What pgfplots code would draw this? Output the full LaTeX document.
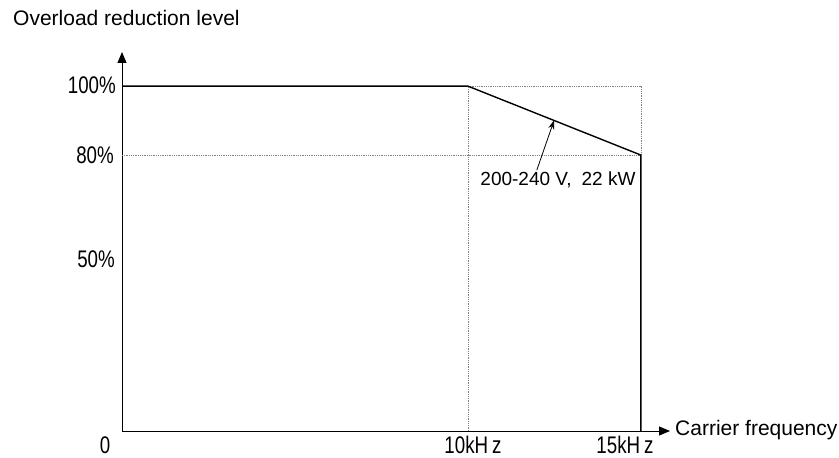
\documentclass[border=0pt]{standalone}
\usepackage{pgfplots}
\pgfplotsset{compat=1.18}
\usetikzlibrary{arrows.meta}
\usepackage{fontspec}
\setmainfont{Liberation Sans}
\newfontfamily\tickfont[FakeStretch=0.78]{Liberation Sans}
\begin{document}
\begin{tikzpicture}
\useasboundingbox (-122bp,-27bp) rectangle (717bp,431bp);
\begin{axis}[
  at={(0bp,0bp)}, anchor=south west,
  scale only axis, width=548bp, height=379bp,
  xmin=0, xmax=15.84, ymin=0, ymax=109.9,
  axis lines=left,
  axis line style={line width=0.9bp, -{Triangle[length=11bp,width=9bp]}},
  xtick=\empty, ytick=\empty,
  clip=false,
]
\addplot[densely dotted, gray, line width=0.8bp] coordinates {(10,0) (10,100) (15,100) (15,80)};
\addplot[densely dotted, gray, line width=0.8bp] coordinates {(0,80) (15,80)};
\addplot[black, line width=1.4bp] coordinates {(0,100) (10,100) (15,80) (15,0)};
\draw[-{Stealth[length=9bp,width=6bp]}, line width=0.8bp] (axis cs:11.99,75.65) -- (axis cs:12.49,90.1);
\end{axis}
\begin{scope}[every node/.style={font=\tickfont\fontsize{24bp}{28bp}\selectfont, inner sep=0pt}]
\node[anchor=east] at (-6bp,346bp) {100\%};
\node[anchor=east] at (-8bp,276bp) {80\%};
\node[anchor=east] at (-7bp,172bp) {50\%};
\node at (-17bp,-14bp) {0};
\node at (351bp,-14bp) {10kH\hspace{4bp}z};
\node at (503bp,-14bp) {15kH\hspace{4bp}z};
\end{scope}
\node[anchor=west, inner sep=0pt, font=\fontsize{21bp}{24bp}\selectfont] at (-109bp,413bp) {Overload reduction level};
\node[anchor=west, inner sep=0pt, font=\fontsize{21bp}{24bp}\selectfont] at (553bp,1bp) {Carrier frequency};
\node[inner sep=0pt, font=\fontsize{19bp}{22bp}\selectfont] at (436bp,251bp) {200-240 V,\hspace{10bp}22 kW};
\end{tikzpicture}
\end{document}
